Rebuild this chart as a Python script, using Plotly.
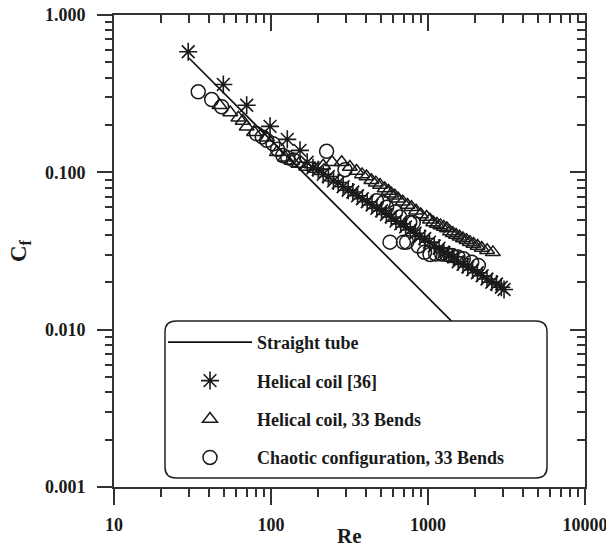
import plotly.graph_objects as go

# ---------------- data ----------------
straight_re = [30, 3000]
straight_cf = [0.533, 0.00533]

helical36_re = [29.7, 49.7, 70, 98.6, 127, 153,
                170, 185, 200, 215, 232, 250, 268, 288, 310, 332, 356, 382, 410, 440,
                472, 506, 543, 583, 625, 670, 720, 772, 828, 888, 953, 1022, 1096, 1176,
                1262, 1354, 1452, 1558, 1671, 1793, 1923, 2063, 2213, 2374, 2547, 2732,
                2931, 3050]
helical36_cf = [0.584, 0.362, 0.267, 0.196, 0.162, 0.138,
                0.116, 0.107, 0.104, 0.097, 0.094, 0.088, 0.086, 0.081, 0.077, 0.075, 0.071, 0.068, 0.065, 0.062,
                0.059, 0.057, 0.054, 0.052, 0.049, 0.047, 0.045, 0.043, 0.041, 0.039, 0.038, 0.036, 0.034, 0.033,
                0.031, 0.030, 0.029, 0.027, 0.026, 0.025, 0.024, 0.023, 0.022, 0.021, 0.020, 0.0195,
                0.0186, 0.018]

helical33_re = [47, 55, 62, 66, 70, 78, 94, 109, 123, 136, 150, 168, 190, 215, 245,
                282, 318, 351, 380, 406, 436, 465, 495, 530, 560, 585, 615, 646, 690,
                740, 785, 840, 900, 980, 1030, 1080, 1140, 1200, 1260, 1320, 1380, 1440,
                1510, 1590, 1670, 1760, 1850, 1950, 2070, 2200, 2380, 2590]
helical33_cf = [0.267, 0.240, 0.222, 0.212, 0.195, 0.180, 0.166, 0.134, 0.124, 0.118, 0.113, 0.108, 0.105, 0.110, 0.116,
                0.116, 0.108, 0.102, 0.097, 0.094, 0.089, 0.086, 0.083, 0.079, 0.076, 0.073, 0.071, 0.068, 0.065,
                0.062, 0.060, 0.057, 0.054, 0.052, 0.050, 0.048, 0.047, 0.046, 0.045, 0.044, 0.042, 0.041,
                0.040, 0.039, 0.038, 0.037, 0.036, 0.035, 0.034, 0.033, 0.032, 0.031]

chaotic_re = [34.4, 41.9, 48.5, 81, 88, 94, 103, 110, 119, 128, 139, 226, 296,
              470, 519, 545, 573, 620, 660, 697, 731, 765, 806, 867, 950, 1030,
              1120, 1222, 1320, 1415, 1550, 1679, 1898, 2092]
chaotic_cf = [0.325, 0.290, 0.261, 0.176, 0.168, 0.160, 0.152, 0.140, 0.128, 0.124, 0.120, 0.136, 0.104,
              0.066, 0.064, 0.060, 0.036, 0.056, 0.052, 0.036, 0.036, 0.048, 0.048, 0.034, 0.031, 0.030,
              0.0303, 0.0303, 0.030, 0.0296, 0.029, 0.0282, 0.0268, 0.0256]

x_tickvals = [10, 100, 1000, 10000]
x_ticktext = ["10", "100", "1000", "10000"]
y_tickvals = [0.001, 0.01, 0.1, 1]
y_ticktext = ["0.001", "0.010", "0.100", "1.000"]

names = ["Straight tube", "Helical coil [36]", "Helical coil, 33 Bends",
         "Chaotic configuration, 33 Bends"]

# ---------------- style ----------------
FONT = "Liberation Serif"
INK = "#1a1a1a"
AX = "#333333"

fig = go.Figure()

fig.add_trace(go.Scatter(x=straight_re, y=straight_cf, mode="lines", name=names[0],
                         line=dict(color="#111111", width=1.7),
                         xaxis="x2", yaxis="y2", legendgroup="a"))
fig.add_trace(go.Scatter(x=helical36_re, y=helical36_cf, mode="markers", name=names[1],
                         marker=dict(symbol="asterisk-open", size=15, color=INK,
                                     line=dict(color=INK, width=1.6)),
                         legendgroup="b"))
fig.add_trace(go.Scatter(x=helical33_re, y=helical33_cf, mode="markers", name=names[2],
                         marker=dict(symbol="triangle-up-open", size=13, color=INK,
                                     line=dict(color=INK, width=1.5)),
                         legendgroup="c"))
fig.add_trace(go.Scatter(x=chaotic_re, y=chaotic_cf, mode="markers", name=names[3],
                         marker=dict(symbol="circle-open", size=14, color=INK,
                                     line=dict(color=INK, width=1.5)),
                         legendgroup="d"))

tickfont = dict(family=FONT, size=18, color=INK, weight="bold")

common_x = dict(type="log", range=[1, 4], showgrid=False, zeroline=False,
                showline=True, linecolor=AX, linewidth=2)
common_y = dict(type="log", range=[-3, 0], showgrid=False, zeroline=False,
                showline=True, linecolor=AX, linewidth=2)

L, R, T, B = 114, 21, 15, 64
W, H = 606, 551
pw, ph = W - L - R, H - T - B

def px(xp):
    return (xp - L) / pw

def py(yp):
    return (H - B - yp) / ph

# rounded legend box
x0, x1 = px(165), px(547)
y1, y0 = py(321), py(478)
rx, ry = 11 / pw, 11 / ph
path = (f"M{x0+rx},{y0} L{x1-rx},{y0} Q{x1},{y0} {x1},{y0+ry} "
        f"L{x1},{y1-ry} Q{x1},{y1} {x1-rx},{y1} L{x0+rx},{y1} Q{x0},{y1} {x0},{y1-ry} "
        f"L{x0},{y0+ry} Q{x0},{y0} {x0+rx},{y0} Z")

fig.update_layout(
    width=W, height=H,
    margin=dict(l=L, r=R, t=T, b=B, autoexpand=False),
    paper_bgcolor="white", plot_bgcolor="white",
    xaxis=dict(**common_x, side="bottom", ticks="outside", ticklen=16, tickwidth=2, tickcolor=AX,
               tickmode="array", tickvals=x_tickvals, ticktext=x_ticktext, tickfont=tickfont,
               ticklabelstandoff=4, ticklabeloverflow="allow",
               minor=dict(ticks="outside", ticklen=8, tickwidth=1.5, tickcolor=AX, dtick="D1",
                          showgrid=False)),
    xaxis2=dict(**common_x, side="top", overlaying="x", anchor="y2", ticks="inside", ticklen=16,
                tickwidth=2, tickcolor=AX, showticklabels=False,
                tickmode="array", tickvals=x_tickvals,
                minor=dict(ticks="inside", ticklen=8, tickwidth=1.5, tickcolor=AX, dtick="D1",
                           showgrid=False)),
    yaxis=dict(**common_y, side="left", ticks="outside", ticklen=15, tickwidth=2, tickcolor=AX,
               tickmode="array", tickvals=y_tickvals, ticktext=y_ticktext, tickfont=tickfont,
               ticklabelstandoff=8, ticklabeloverflow="allow",
               minor=dict(ticks="outside", ticklen=7, tickwidth=1.5, tickcolor=AX, dtick="D1",
                          showgrid=False)),
    yaxis2=dict(**common_y, side="right", overlaying="y", anchor="x2", ticks="inside", ticklen=15,
                tickwidth=2, tickcolor=AX, showticklabels=False,
                tickmode="array", tickvals=y_tickvals,
                minor=dict(ticks="inside", ticklen=8, tickwidth=1.5, tickcolor=AX, dtick="D1",
                           showgrid=False)),
    showlegend=True,
    legend=dict(x=px(163), y=py(324), xanchor="left", yanchor="top",
                bgcolor="rgba(0,0,0,0)", borderwidth=0,
                font=dict(family=FONT, size=18, color=INK, weight="bold"),
                tracegroupgap=12, itemwidth=84, traceorder="grouped"),
    shapes=[dict(type="path", path=path, xref="paper", yref="paper",
                 fillcolor="white", line=dict(color="#222222", width=1.5), layer="above")],
    annotations=[
        dict(text="Re", x=0.5, y=py(536), xref="paper", yref="paper", showarrow=False,
             xanchor="center", yanchor="middle", borderpad=0,
             font=dict(family=FONT, size=21, color=INK, weight="bold")),
        dict(text="C<sub>f</sub>", x=px(20), y=py(251), xref="paper", yref="paper",
             showarrow=False, textangle=-90, xanchor="center", yanchor="middle",
             font=dict(family=FONT, size=23, color=INK, weight="bold")),
    ],
)

fig.write_html("out.html")
